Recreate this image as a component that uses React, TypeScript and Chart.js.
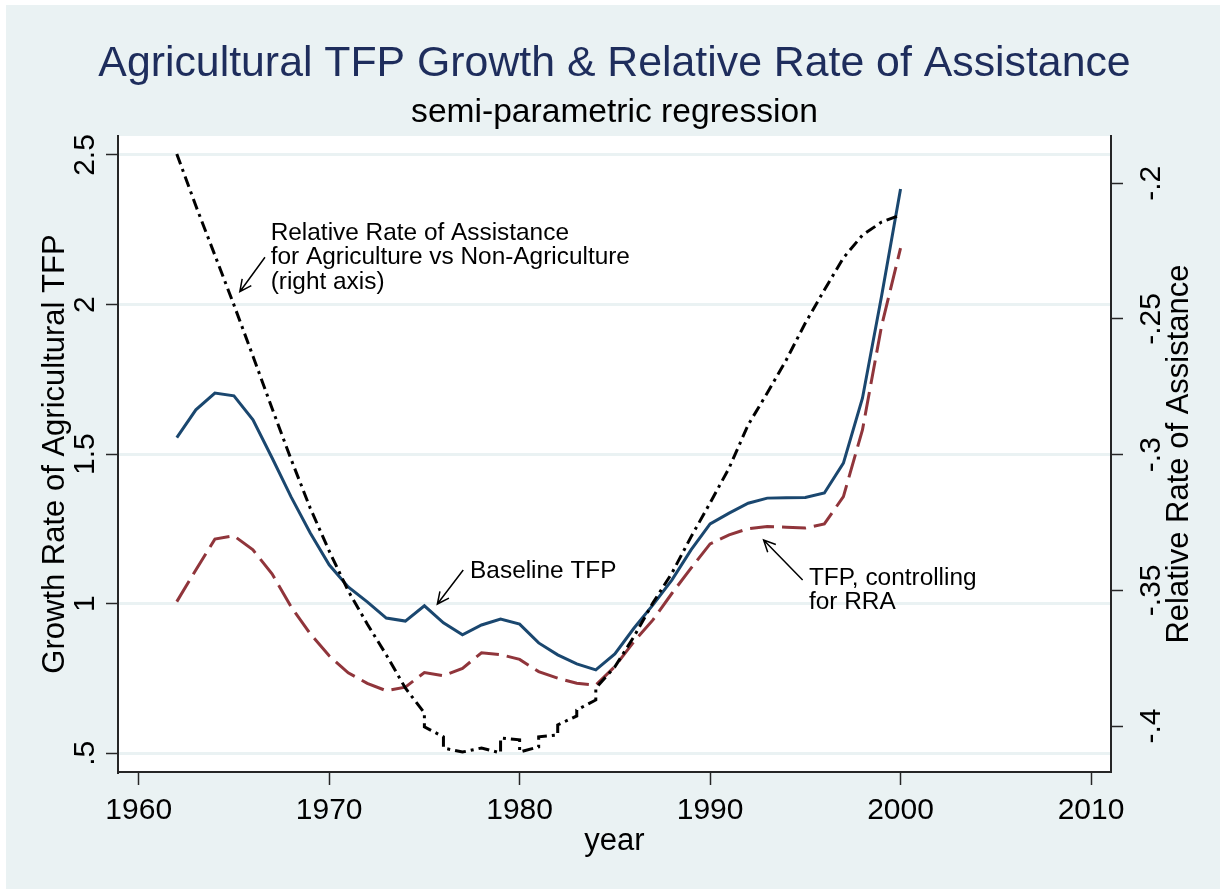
import React, { useEffect, useRef } from 'react';
import { Chart, registerables } from 'chart.js';

Chart.register(...registerables);

// ---------------- data ----------------
const tfpYears = [
  1962, 1963, 1964, 1965, 1966, 1967, 1968, 1969, 1970, 1971, 1972, 1973, 1974,
  1975, 1976, 1977, 1978, 1979, 1980, 1981, 1982, 1983, 1984, 1985, 1986, 1987,
  1988, 1989, 1990, 1991, 1992, 1993, 1994, 1995, 1996, 1997, 1998, 1999, 2000,
];

const baselineTfp = [
  1.555, 1.648, 1.704, 1.695, 1.615, 1.488, 1.357, 1.237, 1.13, 1.056, 1.006, 0.952, 0.942,
  0.993, 0.936, 0.896, 0.929, 0.949, 0.932, 0.869, 0.829, 0.799, 0.779, 0.832, 0.918, 0.996,
  1.08, 1.18, 1.267, 1.303, 1.336, 1.353, 1.354, 1.355, 1.37, 1.47, 1.687, 2.027, 2.386,
];

const controlledTfp = [
  1.007, 1.113, 1.216, 1.227, 1.18, 1.1, 0.99, 0.9, 0.826, 0.769, 0.734, 0.709, 0.721,
  0.77, 0.759, 0.784, 0.836, 0.83, 0.814, 0.773, 0.751, 0.734, 0.728, 0.79, 0.873, 0.946,
  1.035, 1.119, 1.2, 1.23, 1.251, 1.258, 1.256, 1.253, 1.267, 1.358, 1.581, 1.927, 2.189,
];

const rraYears = [
  1962, 1963, 1964, 1965, 1966, 1967, 1968, 1969, 1970, 1971, 1972, 1973, 1974,
  1975, 1975, 1976, 1976, 1977, 1978, 1979, 1979, 1980, 1980, 1981, 1981, 1982, 1982,
  1983, 1983, 1984, 1984, 1985, 1986, 1987, 1988, 1989, 1990, 1991, 1992, 1993, 1994,
  1995, 1996, 1997, 1998, 1999, 2000,
];

const rraValues = [
  -0.1892, -0.2083, -0.2265, -0.2448, -0.2637, -0.2829, -0.3017, -0.3196, -0.3355, -0.3502, -0.3624, -0.3738, -0.386,
  -0.3952, -0.4003, -0.404, -0.4081, -0.4096, -0.4081, -0.4099, -0.4044, -0.4051, -0.4096, -0.4077, -0.404, -0.4033, -0.3996,
  -0.3963, -0.3941, -0.3904, -0.386, -0.3782, -0.3671, -0.3546, -0.3436, -0.3303, -0.3178, -0.3049, -0.289, -0.2773, -0.2651,
  -0.2515, -0.2393, -0.2275, -0.2191, -0.2143, -0.2117,
];

const xTickValues = [1960, 1970, 1980, 1990, 2000, 2010];
const xTickLabels = ['1960', '1970', '1980', '1990', '2000', '2010'];
const leftTickValues = [0.5, 1, 1.5, 2, 2.5];
const leftTickLabels = ['.5', '1', '1.5', '2', '2.5'];
const rightTickValues = [-0.4, -0.35, -0.3, -0.25, -0.2];
const rightTickLabels = ['-.4', '-.35', '-.3', '-.25', '-.2'];

const titleText = 'Agricultural TFP Growth & Relative Rate of Assistance';
const subtitleText = 'semi-parametric regression';
const xTitle = 'year';
const leftTitle = 'Growth Rate of Agricultural TFP';
const rightTitle = 'Relative Rate of Assistance';

// annotations in data coordinates (year, left-axis value)
const noteTexts = [
  { lines: ['Relative Rate of Assistance', 'for Agriculture vs Non-Agriculture', '(right axis)'], x: 1966.93, y: 2.216 },
  { lines: ['Baseline TFP'], x: 1977.4, y: 1.086 },
  { lines: ['TFP, controlling', 'for RRA'], x: 1995.19, y: 1.063 },
];
const noteArrows = [
  { x0: 1966.63, y0: 2.158, x1: 1965.31, y1: 2.043 },
  { x0: 1977.04, y0: 1.113, x1: 1975.68, y1: 0.999 },
  { x0: 1994.86, y0: 1.079, x1: 1992.81, y1: 1.213 },
];

// ---------------- styles ----------------
const FONT = '"Liberation Sans", Arial, Helvetica, sans-serif';
const BG = '#eaf2f3';
const AXIS = '#262626';

function rotText(ctx: CanvasRenderingContext2D, text: string, x: number, y: number) {
  ctx.save();
  ctx.translate(x, y);
  ctx.rotate(-Math.PI / 2);
  ctx.textAlign = 'center';
  ctx.textBaseline = 'alphabetic';
  ctx.fillText(text, 0, 0);
  ctx.restore();
}

const decorPlugin = {
  id: 'decor',
  beforeDraw(chart: any) {
    const { ctx, chartArea: a } = chart;
    ctx.save();
    ctx.fillStyle = '#ffffff';
    ctx.fillRect(0, 0, chart.width, chart.height);
    ctx.fillStyle = BG;
    ctx.fillRect(6, 5, chart.width - 6, chart.height - 7);
    ctx.fillStyle = '#ffffff';
    ctx.fillRect(a.left, a.top, a.right - a.left, a.bottom - a.top);
    ctx.restore();
  },
  afterDraw(chart: any) {
    const { ctx, chartArea: a } = chart;
    const sx = chart.scales.x;
    const sy = chart.scales.y;
    const sy1 = chart.scales.y1;
    const cx = (a.left + a.right) / 2;
    const cy = (a.top + a.bottom) / 2;
    ctx.save();

    // titles
    ctx.textAlign = 'center';
    ctx.textBaseline = 'alphabetic';
    ctx.fillStyle = '#1e2d5c';
    ctx.font = `42.8px ${FONT}`;
    ctx.fillText(titleText, cx, 76);
    ctx.fillStyle = '#000';
    ctx.font = `33.6px ${FONT}`;
    ctx.fillText(subtitleText, cx, 122);

    // tick labels
    ctx.font = `30px ${FONT}`;
    ctx.fillStyle = '#000';
    xTickValues.forEach((v, i) => {
      ctx.fillText(xTickLabels[i], sx.getPixelForValue(v), 819);
    });
    leftTickValues.forEach((v, i) => {
      rotText(ctx, leftTickLabels[i], 93.5, sy.getPixelForValue(v));
    });
    rightTickValues.forEach((v, i) => {
      rotText(ctx, rightTickLabels[i], 1159.5, sy1.getPixelForValue(v));
    });

    // axis titles
    ctx.font = `31px ${FONT}`;
    ctx.fillText(xTitle, cx, 850);
    rotText(ctx, leftTitle, 64, cy);
    rotText(ctx, rightTitle, 1188, cy);

    // annotations
    ctx.font = `24.4px ${FONT}`;
    ctx.textAlign = 'left';
    noteTexts.forEach((n) => {
      const px = sx.getPixelForValue(n.x);
      const py = sy.getPixelForValue(n.y);
      n.lines.forEach((line, i) => ctx.fillText(line, px, py + i * 24.5));
    });
    ctx.strokeStyle = '#000';
    ctx.lineWidth = 1.5;
    noteArrows.forEach((ar) => {
      const x0 = sx.getPixelForValue(ar.x0);
      const y0 = sy.getPixelForValue(ar.y0);
      const x1 = sx.getPixelForValue(ar.x1);
      const y1 = sy.getPixelForValue(ar.y1);
      const ang = Math.atan2(y1 - y0, x1 - x0);
      const L = 13;
      const w = 0.45;
      ctx.beginPath();
      ctx.moveTo(x0, y0);
      ctx.lineTo(x1, y1);
      ctx.moveTo(x1 - L * Math.cos(ang - w), y1 - L * Math.sin(ang - w));
      ctx.lineTo(x1, y1);
      ctx.lineTo(x1 - L * Math.cos(ang + w), y1 - L * Math.sin(ang + w));
      ctx.stroke();
    });
    ctx.restore();
  },
};

export default function App() {
  const canvasRef = useRef<HTMLCanvasElement | null>(null);

  useEffect(() => {
    const canvas = canvasRef.current;
    if (!canvas) return;
    const chart = new Chart(canvas, {
      type: 'line',
      data: {
        datasets: [
          {
            label: 'Relative Rate of Assistance',
            data: rraYears.map((x, i) => ({ x, y: rraValues[i] })),
            yAxisID: 'y1',
            borderColor: '#000000',
            borderWidth: 3,
            borderDash: [11, 5, 3, 5],
            pointRadius: 0,
            fill: false,
            tension: 0,
          },
          {
            label: 'Baseline TFP',
            data: tfpYears.map((x, i) => ({ x, y: baselineTfp[i] })),
            yAxisID: 'y',
            borderColor: '#1a476f',
            borderWidth: 3,
            pointRadius: 0,
            fill: false,
            tension: 0,
          },
          {
            label: 'TFP, controlling for RRA',
            data: tfpYears.map((x, i) => ({ x, y: controlledTfp[i] })),
            yAxisID: 'y',
            borderColor: '#90353b',
            borderWidth: 3,
            borderDash: [24, 8],
            pointRadius: 0,
            fill: false,
            tension: 0,
          },
        ],
      },
      options: {
        responsive: false,
        animation: false,
        devicePixelRatio: 1,
        events: [],
        layout: { padding: { top: 136, left: 0, right: 0, bottom: 0 } },
        plugins: {
          legend: { display: false },
          tooltip: { enabled: false },
          title: { display: false },
        },
        scales: {
          x: {
            type: 'linear',
            min: 1958.913,
            max: 2011.05,
            afterBuildTicks: (s: any) => {
              s.ticks = xTickValues.map((value) => ({ value }));
            },
            afterFit: (s: any) => {
              s.height = 119;
            },
            ticks: { display: false },
            grid: {
              drawOnChartArea: false,
              drawTicks: true,
              tickLength: 13,
              tickColor: AXIS,
              tickWidth: 1.5,
            },
            border: { display: true, color: AXIS, width: 2 },
          },
          y: {
            type: 'linear',
            position: 'left',
            min: 0.4375,
            max: 2.5635,
            afterBuildTicks: (s: any) => {
              s.ticks = leftTickValues.map((value) => ({ value }));
            },
            afterFit: (s: any) => {
              s.width = 118;
            },
            ticks: { display: false },
            grid: {
              drawOnChartArea: true,
              color: BG,
              lineWidth: 3,
              drawTicks: true,
              tickLength: 12,
              tickColor: AXIS,
              tickWidth: 1.5,
            },
            border: { display: true, color: AXIS, width: 2 },
          },
          y1: {
            type: 'linear',
            position: 'right',
            min: -0.41695,
            max: -0.18257,
            afterBuildTicks: (s: any) => {
              s.ticks = rightTickValues.map((value) => ({ value }));
            },
            afterFit: (s: any) => {
              s.width = 109;
            },
            ticks: { display: false },
            grid: {
              drawOnChartArea: false,
              drawTicks: true,
              tickLength: 12,
              tickColor: AXIS,
              tickWidth: 1.5,
            },
            border: { display: true, color: AXIS, width: 2 },
          },
        },
      },
      plugins: [decorPlugin],
    });
    return () => chart.destroy();
  }, []);

  return (
    <div style={{ position: 'absolute', left: 0, top: 0, width: 1220, height: 891 }}>
      <canvas ref={canvasRef} width={1220} height={891} style={{ display: 'block', width: 1220, height: 891 }} />
    </div>
  );
}
